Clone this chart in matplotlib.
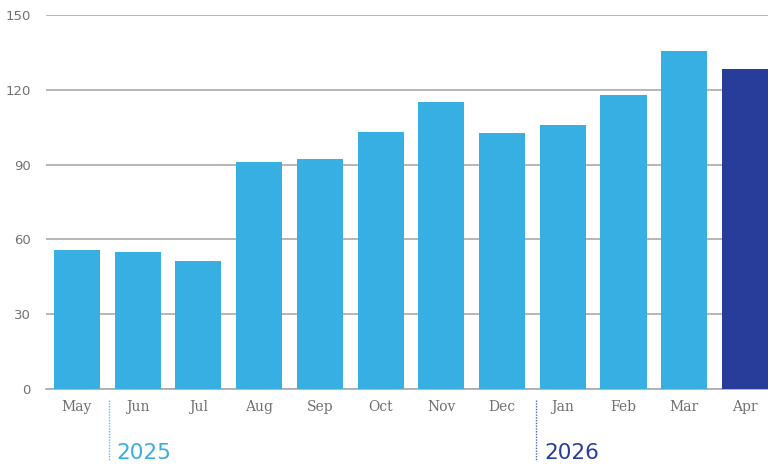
import matplotlib
matplotlib.use("Agg")
import matplotlib.pyplot as plt
import matplotlib.transforms as mtransforms

# monthly values
months = ["May", "Jun", "Jul", "Aug", "Sep", "Oct", "Nov", "Dec",
          "Jan", "Feb", "Mar", "Apr"]
values = [55.8, 55.0, 51.4, 91.2, 92.4, 103.2, 115.1, 102.8,
          106.0, 118.0, 135.7, 128.5]
y_ticks = [0, 30, 60, 90, 120, 150]
years = ["2025", "2026"]
year_start = [0.52, 7.56]  # where each year's dotted divider sits

light_blue = "#38AFE3"
dark_blue = "#283D9A"
colors = [light_blue] * (len(months) - 1) + [dark_blue]
year_colors = [light_blue, dark_blue]

plt.rcParams["font.serif"] = ["DejaVu Serif", "Liberation Serif"]

fig = plt.figure(figsize=(7.68, 4.65), dpi=100)
ax = fig.add_axes([46 / 768, 1 - 389 / 465, 1 - 46 / 768, 374 / 465])

x = range(len(months))
ax.bar(x, values, width=0.76, color=colors, zorder=3)

ax.set_ylim(0, 150)
ax.set_xlim(-0.51, 11.38)
ax.set_yticks(y_ticks)
ax.yaxis.grid(True, color="#aaaaaa", linewidth=1.2, zorder=0)
ax.set_axisbelow(True)
for s in ["top", "right", "left"]:
    ax.spines[s].set_visible(False)
ax.spines["bottom"].set_color("#aaaaaa")
ax.spines["bottom"].set_linewidth(1.2)

ax.set_xticks(list(x))
ax.set_xticklabels(months)
for lbl in ax.get_xticklabels():
    lbl.set_fontfamily("serif")
    lbl.set_fontsize(10)
    lbl.set_color("#707070")
ax.tick_params(axis="x", length=0, pad=8)
ax.tick_params(axis="y", length=0, pad=11, labelsize=9.5, labelcolor="#707070")

trans = mtransforms.blended_transform_factory(ax.transData, ax.transAxes)
for yr, xs, c in zip(years, year_start, year_colors):
    ax.plot([xs, xs], [-0.03, -0.193], transform=trans, clip_on=False,
            color=c, linestyle=(0, (1, 1)), linewidth=1.0, alpha=0.8)
    ax.text(xs + 0.13, -0.172, yr, transform=trans, color=c, fontsize=15.5,
            ha="left", va="center")

fig.savefig("out.png", dpi=100)
